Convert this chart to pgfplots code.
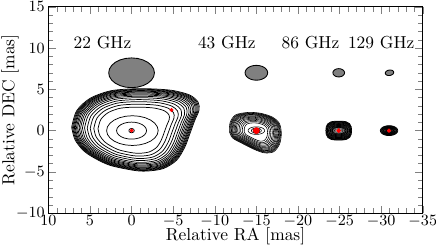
\documentclass[border=0pt]{standalone}
\usepackage{pgfplots}
\usepackage{pgfplotstable}
\pgfplotsset{compat=1.18}

% unit circle (used for beams and elliptical contours)
\pgfplotstableread{
x y
1 0
0.9659 0.2588
0.8660 0.5
0.7071 0.7071
0.5 0.8660
0.2588 0.9659
0 1
-0.2588 0.9659
-0.5 0.8660
-0.7071 0.7071
-0.8660 0.5
-0.9659 0.2588
-1 0
-0.9659 -0.2588
-0.8660 -0.5
-0.7071 -0.7071
-0.5 -0.8660
-0.2588 -0.9659
0 -1
0.2588 -0.9659
0.5 -0.8660
0.7071 -0.7071
0.8660 -0.5
0.9659 -0.2588
1 0
}\circtab

% 22 GHz outermost contour (mas, about the core at 0,0)
\pgfplotstableread{
x y
7.2 0.4
6.6 2.4
5.0 3.9
2.6 4.8
0.0 5.05
-2.5 5.05
-5.0 4.85
-7.0 4.3
-8.0 3.45
-8.1 2.45
-7.6 1.25
-7.0 -0.4
-6.4 -2.0
-5.4 -3.6
-3.8 -4.6
-1.8 -4.9
-0.2 -4.8
2.6 -4.2
4.5 -3.3
5.8 -2.4
6.8 -1.1
7.2 0.4
}\shapeA

% 43 GHz outermost contour (mas, relative to core at -15,0)
\pgfplotstableread{
x y
3.25 0.0
3.15 1.1
2.5 2.0
1.0 2.3
-0.5 2.2
-1.9 1.75
-2.75 1.0
-3.0 -0.2
-2.8 -1.5
-2.1 -2.45
-1.0 -2.6
0.2 -2.2
1.6 -1.5
2.85 -0.8
3.25 0.0
}\shapeB

% rounded-square outline (86 GHz)
\pgfplotstableread{
x y
1 0
0.97 0.4
0.85 0.72
0.6 0.92
0.25 0.99
-0.25 0.99
-0.6 0.92
-0.85 0.72
-0.97 0.4
-1 0
-0.97 -0.4
-0.85 -0.72
-0.6 -0.92
-0.25 -0.99
0.25 -0.99
0.6 -0.92
0.85 -0.72
0.97 -0.4
1 0
}\shapeC

\pgfplotsset{
  cont/.style={black, line width=0.42pt, smooth},
  thin cont/.style={black, line width=0.33pt, smooth},
  beam/.style={draw=black, line width=0.5pt, fill=gray},
}

\begin{document}
\begin{tikzpicture}
\begin{axis}[
  scale only axis,
  width=215.2pt, height=118.7pt,
  x dir=reverse,
  xmin=-35, xmax=10, ymin=-10, ymax=15,
  xtick distance=5, ytick distance=5,
  minor tick num=4,
  tick align=inside,
  ticklabel style={font=\small},
  xticklabel style={inner ysep=1.2pt},
  yticklabel style={inner xsep=1.9pt},
  xlabel={Relative RA [mas]},
  ylabel={Relative DEC [mas]},
  xlabel style={at={(axis description cs:0.5,-0.134)}, anchor=base},
  ylabel style={at={(axis description cs:-0.091,0.5)}, anchor=base},
]
% ---- beams ----
\addplot[beam] table[x expr={0+2.75*\thisrow{x}}, y expr={7.0+1.8*\thisrow{y}}] {\circtab};
\addplot[beam] table[x expr={-15+1.36*\thisrow{x}}, y expr={7.0+0.9*\thisrow{y}}] {\circtab};
\addplot[beam] table[x expr={-24.9+0.7*\thisrow{x}}, y expr={7.0+0.5*\thisrow{y}}] {\circtab};
\addplot[beam] table[x expr={-31.0+0.5*\thisrow{x}+0.08*\thisrow{y}}, y expr={7.0+0.32*\thisrow{y}-0.1*\thisrow{x}}] {\circtab};

% ---- 22 GHz contours ----
\pgfplotsinvokeforeach{0.56,0.63,0.69,0.74,0.785,0.82,0.85,0.875,0.9,0.92,0.94,0.955,0.97,0.985,1.0}{
  \addplot[cont] table[x expr={#1*\thisrow{x}}, y expr={#1*\thisrow{y}}] {\shapeA};
}
\addplot[black, line width=0.42pt] table[x expr={3.1*\thisrow{x}-0.1}, y expr={1.8*\thisrow{y}}] {\circtab};
\addplot[black, line width=0.42pt] table[x expr={1.8*\thisrow{x}}, y expr={1.03*\thisrow{y}}] {\circtab};
\addplot[black, line width=0.42pt] table[x expr={0.32*\thisrow{x}}, y expr={0.25*\thisrow{y}}] {\circtab};

% ---- 43 GHz contours ----
\pgfplotsinvokeforeach{0.45,0.52,0.58,0.64,0.69,0.74,0.78,0.82,0.86,0.89,0.92,0.945,0.97,1.0}{
  \addplot[thin cont] table[x expr={-15+#1*\thisrow{x}}, y expr={-0.1+#1*\thisrow{y}}] {\shapeB};
}
\addplot[black, line width=0.33pt] table[x expr={-15+1.0*\thisrow{x}}, y expr={0.46*\thisrow{y}}] {\circtab};
\addplot[black, line width=0.33pt] table[x expr={-15+0.6*\thisrow{x}}, y expr={0.3*\thisrow{y}}] {\circtab};
\addplot[black, line width=0.33pt] table[x expr={-15+0.38*\thisrow{x}}, y expr={0.33*\thisrow{y}}] {\circtab};

% ---- 86 GHz contours ----
\pgfplotsinvokeforeach{0.24,0.29,0.34,0.39,0.44,0.49,0.54,0.59,0.64,0.69,0.74,0.79,0.84,0.88,0.92,0.96,1.0}{
  \addplot[cont] table[x expr={-24.9+1.55*#1*\thisrow{x}}, y expr={1.15*#1*\thisrow{y}}] {\shapeC};
}
\addplot[black!50, line width=0.4pt] table[x expr={-24.9+0.62*\thisrow{x}}, y expr={0.28*\thisrow{y}}] {\circtab};
\addplot[black!50, line width=0.4pt] table[x expr={-24.9+0.42*\thisrow{x}}, y expr={0.18*\thisrow{y}}] {\circtab};

% ---- 129 GHz contours ----
\pgfplotsinvokeforeach{0.3,0.37,0.44,0.51,0.58,0.65,0.72,0.79,0.86,0.93,1.0}{
  \addplot[cont] table[x expr={-30.95+1.05*#1*\thisrow{x}}, y expr={0.6*#1*\thisrow{y}}] {\circtab};
}

% ---- model components ----
\addplot[only marks, mark=*, mark size=0.9pt, color=red] coordinates {(0,0) (-4.8,2.5)};
\addplot[only marks, mark=*, mark size=1.7pt, color=red] coordinates {(-15,0)};
\addplot[only marks, mark=*, mark size=1.1pt, color=red] coordinates {(-24.9,0)};
\addplot[only marks, mark=*, mark size=1.0pt, color=red] coordinates {(-30.95,0)};

% ---- frequency labels ----
\node[anchor=base] at (axis cs:3.5,10.0) {22 GHz};
\node[anchor=base] at (axis cs:-11.45,10.0) {43 GHz};
\node[anchor=base] at (axis cs:-21.5,10.0) {86 GHz};
\node[anchor=base] at (axis cs:-30.0,10.0) {129 GHz};
\end{axis}
\pgfresetboundingbox
\useasboundingbox ([shift={(-27.8pt,-18.8pt)}]current axis.south west) rectangle ([shift={(7.6pt,3.85pt)}]current axis.north east);
\end{tikzpicture}
\end{document}
